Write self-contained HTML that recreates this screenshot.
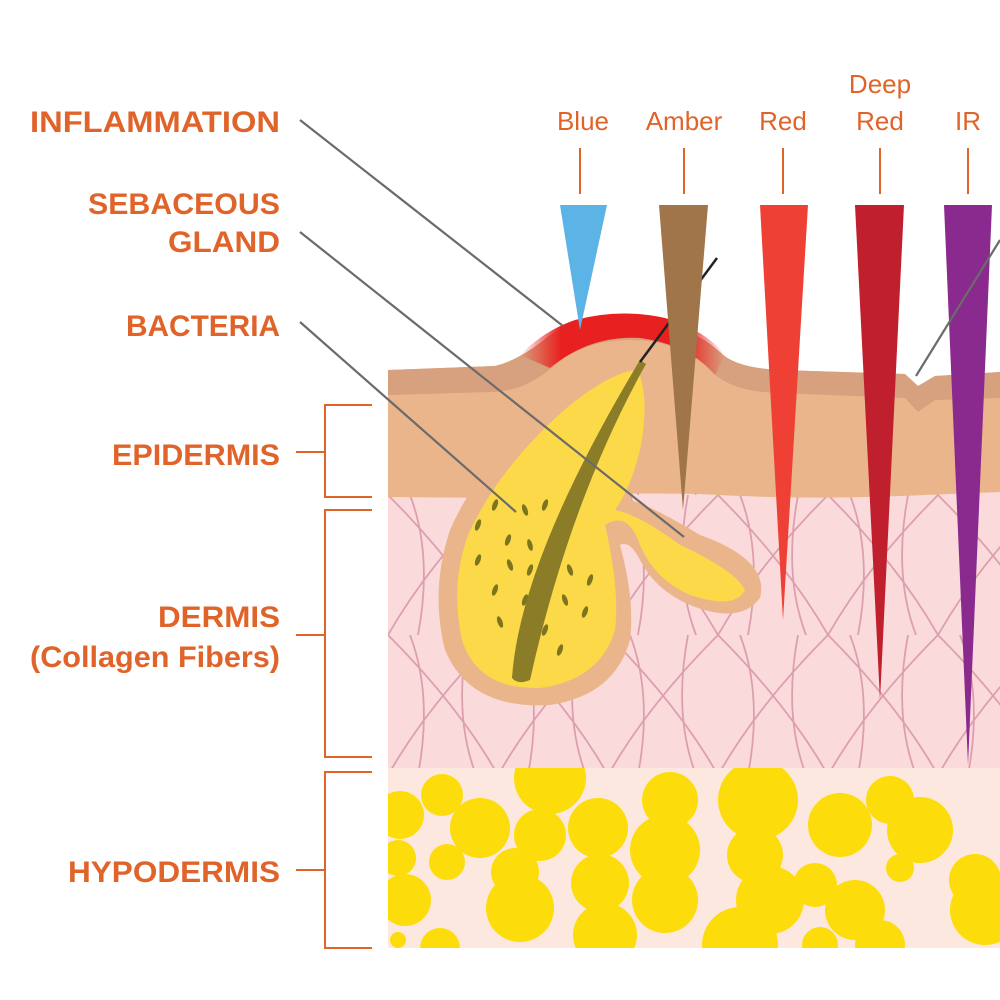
<!DOCTYPE html>
<html><head><style>
html,body{margin:0;padding:0;background:#fff;}
svg{display:block;}
text{font-family:"Liberation Sans",sans-serif;}
</style></head><body>
<svg width="1000" height="1000" viewBox="0 0 1000 1000" xmlns="http://www.w3.org/2000/svg">
<defs>
<pattern id="fib" width="110" height="140" patternUnits="userSpaceOnUse" x="388" y="495">
<path d="M0 140 Q40 70 110 0 M0 0 Q70 70 110 140 M30 140 Q45 60 22 0 M80 0 Q65 80 88 140" fill="none" stroke="#dd9fb0" stroke-width="1.8"/>
</pattern>
<clipPath id="hyp"><rect x="388" y="768" width="612" height="180"/></clipPath>
<linearGradient id="inf" x1="0" x2="1" y1="0" y2="0">
<stop offset="0" stop-color="#e8201f" stop-opacity="0"/><stop offset="0.2" stop-color="#e8201f"/><stop offset="0.8" stop-color="#e8201f"/><stop offset="1" stop-color="#e8201f" stop-opacity="0"/>
</linearGradient>
</defs>
<rect x="388" y="490" width="612" height="280" fill="#fadadb"/>
<rect x="388" y="490" width="612" height="280" fill="url(#fib)"/>
<rect x="388" y="768" width="612" height="180" fill="#fde8e0"/>
<g fill="#fddc0c" clip-path="url(#hyp)">
<circle cx="400" cy="815" r="24"/><circle cx="442" cy="795" r="21"/><circle cx="480" cy="828" r="30"/>
<circle cx="550" cy="778" r="36"/><circle cx="540" cy="835" r="26"/><circle cx="598" cy="828" r="30"/>
<circle cx="670" cy="800" r="28"/><circle cx="665" cy="850" r="35"/><circle cx="665" cy="900" r="33"/>
<circle cx="758" cy="800" r="40"/><circle cx="755" cy="855" r="28"/><circle cx="770" cy="900" r="34"/>
<circle cx="840" cy="825" r="32"/><circle cx="890" cy="800" r="24"/><circle cx="920" cy="830" r="33"/>
<circle cx="398" cy="858" r="18"/><circle cx="447" cy="862" r="18"/><circle cx="515" cy="872" r="24"/>
<circle cx="520" cy="908" r="34"/><circle cx="600" cy="883" r="29"/><circle cx="605" cy="935" r="32"/>
<circle cx="740" cy="945" r="38"/><circle cx="815" cy="885" r="22"/><circle cx="855" cy="910" r="30"/>
<circle cx="820" cy="945" r="18"/><circle cx="880" cy="945" r="25"/><circle cx="900" cy="868" r="14"/>
<circle cx="975" cy="880" r="26"/><circle cx="985" cy="910" r="35"/><circle cx="405" cy="900" r="26"/>
<circle cx="440" cy="948" r="20"/><circle cx="398" cy="940" r="8"/>
</g>
<path d="M388 370 L495 366 Q520 360 550 335 Q590 310 640 318 Q690 325 720 352 Q735 368 780 370 L905 374 L918 386 L935 376 L1000 372 L1000 492 L900 496 Q800 500 700 494 Q600 492 500 498 L388 497 Z" fill="#eab58a"/>
<path d="M388 370 L495 366 Q520 360 550 335 Q590 310 640 318 Q690 325 720 352 Q735 368 780 370 L905 374 L918 386 L935 376 L1000 372 L1000 398 L935 400 L918 412 L905 398 L780 393 Q730 392 710 370 Q680 340 630 340 Q585 340 555 365 Q525 392 490 392 L388 395 Z" fill="#d7a07e"/>
<path d="M520 355 Q545 330 575 320 Q620 308 665 318 Q705 330 725 355 L715 375 Q690 345 640 338 Q590 335 550 368 Z" fill="url(#inf)"/>
<path d="M640 360 Q660 380 650 430 Q640 480 630 500 Q650 505 700 535 Q770 560 760 598 Q740 625 690 605 Q655 590 640 560 Q630 540 620 545 Q635 600 630 640 Q615 695 550 705 Q470 710 445 650 Q430 590 450 530 Q480 460 560 400 Q610 360 640 360 Z" fill="#eab58a"/>
<path d="M638 370 Q650 400 640 450 Q630 490 615 510 Q640 515 680 545 Q735 570 745 590 Q735 610 690 595 Q655 580 640 545 Q628 510 605 525 Q620 590 615 630 Q600 680 540 688 Q478 690 462 640 Q450 585 468 535 Q500 465 570 405 Q615 370 638 370 Z" fill="#fbd948"/>
<g fill="#7d7420">
<ellipse cx="495" cy="505" rx="2.5" ry="6" transform="rotate(20 495 505)"/><ellipse cx="525" cy="510" rx="2.5" ry="6" transform="rotate(-20 525 510)"/>
<ellipse cx="545" cy="505" rx="2.5" ry="6" transform="rotate(20 545 505)"/><ellipse cx="478" cy="525" rx="2.5" ry="6" transform="rotate(20 478 525)"/>
<ellipse cx="508" cy="540" rx="2.5" ry="6" transform="rotate(20 508 540)"/><ellipse cx="530" cy="545" rx="2.5" ry="6" transform="rotate(-15 530 545)"/>
<ellipse cx="560" cy="540" rx="2.5" ry="6" transform="rotate(20 560 540)"/><ellipse cx="478" cy="560" rx="2.5" ry="6" transform="rotate(20 478 560)"/>
<ellipse cx="510" cy="565" rx="2.5" ry="6" transform="rotate(-20 510 565)"/><ellipse cx="530" cy="570" rx="2.5" ry="6" transform="rotate(20 530 570)"/>
<ellipse cx="570" cy="570" rx="2.5" ry="6" transform="rotate(-20 570 570)"/><ellipse cx="590" cy="580" rx="2.5" ry="6" transform="rotate(20 590 580)"/>
<ellipse cx="495" cy="590" rx="2.5" ry="6" transform="rotate(20 495 590)"/><ellipse cx="525" cy="600" rx="2.5" ry="6" transform="rotate(20 525 600)"/>
<ellipse cx="565" cy="600" rx="2.5" ry="6" transform="rotate(-20 565 600)"/><ellipse cx="585" cy="612" rx="2.5" ry="6" transform="rotate(20 585 612)"/>
<ellipse cx="500" cy="622" rx="2.5" ry="6" transform="rotate(-20 500 622)"/><ellipse cx="545" cy="630" rx="2.5" ry="6" transform="rotate(20 545 630)"/>
<ellipse cx="560" cy="650" rx="2.5" ry="6" transform="rotate(20 560 650)"/><ellipse cx="528" cy="640" rx="2.5" ry="6" transform="rotate(20 528 640)"/>
</g>
<path d="M640 360 L646 364 Q570 500 530 680 Q518 685 512 678 Q520 560 640 360 Z" fill="#8b7c27"/>
<line x1="717" y1="258" x2="640" y2="362" stroke="#222" stroke-width="2.5"/>
<polygon points="560,205 607,205 580,330" fill="#5bb4e5"/>
<polygon points="659,205 708,205 683,510" fill="#a0754a"/>
<polygon points="760,205 808,205 783,620" fill="#ee4035"/>
<polygon points="855,205 904,205 880,700" fill="#c01f2e"/>
<polygon points="944,205 992,205 968,765" fill="#8a2a8e"/>
<g stroke="#e0642a" stroke-width="2">
<line x1="580" y1="148" x2="580" y2="194"/><line x1="684" y1="148" x2="684" y2="194"/>
<line x1="783" y1="148" x2="783" y2="194"/><line x1="880" y1="148" x2="880" y2="194"/><line x1="968" y1="148" x2="968" y2="194"/>
</g>
<g fill="#e0642a" font-size="26" text-anchor="middle">
<text x="583" y="130">Blue</text><text x="684" y="130">Amber</text><text x="783" y="130">Red</text>
<text x="880" y="93">Deep</text><text x="880" y="130">Red</text><text x="968" y="130">IR</text>
</g>
<g stroke="#6b6b6b" stroke-width="2.2" fill="none">
<line x1="300" y1="120" x2="563" y2="326"/>
<line x1="300" y1="232" x2="684" y2="537"/>
<line x1="300" y1="322" x2="516" y2="512"/>
<line x1="1000" y1="240" x2="916" y2="376"/>
</g>
<g fill="#e0642a" font-size="30" font-weight="bold" text-anchor="end">
<text x="280" y="132" textLength="250" lengthAdjust="spacingAndGlyphs">INFLAMMATION</text>
<text x="280" y="214" textLength="192" lengthAdjust="spacingAndGlyphs">SEBACEOUS</text>
<text x="280" y="252" textLength="112" lengthAdjust="spacingAndGlyphs">GLAND</text>
<text x="280" y="336" textLength="154" lengthAdjust="spacingAndGlyphs">BACTERIA</text>
<text x="280" y="465" textLength="168" lengthAdjust="spacingAndGlyphs">EPIDERMIS</text>
<text x="280" y="627" textLength="122" lengthAdjust="spacingAndGlyphs">DERMIS</text>
<text x="280" y="667" textLength="250" lengthAdjust="spacingAndGlyphs">(Collagen Fibers)</text>
<text x="280" y="882" textLength="212" lengthAdjust="spacingAndGlyphs">HYPODERMIS</text>
</g>
<g stroke="#e0642a" stroke-width="2" fill="none">
<path d="M372 405 H325 V497 H372 M296 452 H325"/>
<path d="M372 510 H325 V757 H372 M296 635 H325"/>
<path d="M372 772 H325 V948 H372 M296 870 H325"/>
</g>
</svg>
</body></html>
